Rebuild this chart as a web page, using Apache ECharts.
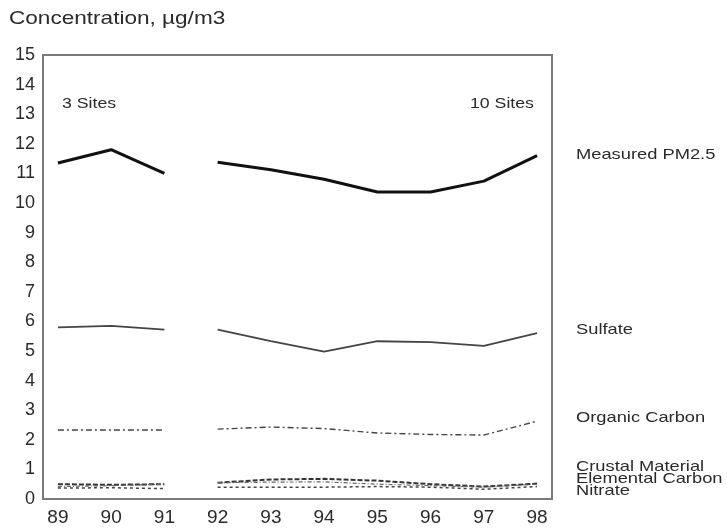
<!DOCTYPE html>
<html>
<head>
<meta charset="utf-8">
<script src="https://cdn.jsdelivr.net/npm/echarts@6/dist/echarts.min.js"></script>
<style>
  html, body { margin: 0; padding: 0; background: #fff; }
  #chart { width: 727px; height: 531px; }
</style>
</head>
<body>
<div id="chart"></div>
<script>
// values (ug/m3)
const years = [89, 90, 91, 92, 93, 94, 95, 96, 97, 98];
const breakAfter = 91; // 3 sites before, 10 sites after
const yTicks = [0, 1, 2, 3, 4, 5, 6, 7, 8, 9, 10, 11, 12, 13, 14, 15];

const pm25 = [11.35, 11.8, 11.0, 11.38, 11.12, 10.8, 10.37, 10.37, 10.74, 11.6];
const sulfate = [5.8, 5.85, 5.72, 5.72, 5.33, 4.98, 5.33, 5.3, 5.17, 5.6];
const organic = [2.33, 2.33, 2.33, 2.36, 2.43, 2.38, 2.23, 2.18, 2.16, 2.63];
const crustal = [0.5, 0.48, 0.5, 0.55, 0.66, 0.68, 0.62, 0.5, 0.42, 0.52];
const elemental = [0.42, 0.45, 0.5, 0.55, 0.57, 0.58, 0.5, 0.45, 0.4, 0.5];
const nitrate = [0.37, 0.38, 0.35, 0.4, 0.4, 0.4, 0.42, 0.4, 0.33, 0.42];

// pair years with values, leaving a hole where the site count changes
function toData(vals) {
  const out = [];
  years.forEach((yr, i) => {
    out.push([yr, vals[i]]);
    if (yr === breakAfter) out.push([yr + 0.5, '-']);
  });
  return out;
}

function line(name, vals, color, width, type) {
  return {
    name: name,
    type: 'line',
    data: toData(vals),
    symbol: 'none',
    connectNulls: false,
    lineStyle: { color: color, width: width, type: type },
    z: 3
  };
}

// stretched-looking scan text
function label(text, x, y, size) {
  return {
    type: 'text',
    x: x,
    y: y,
    scaleX: 1.22,
    style: {
      text: text,
      font: size + 'px "Liberation Sans", Arial, sans-serif',
      fill: '#2a2a2a',
      textVerticalAlign: 'middle'
    }
  };
}

const chart = echarts.init(document.getElementById('chart'));
chart.setOption({
  animation: false,
  backgroundColor: '#fff',
  grid: {
    show: true,
    left: 43,
    right: 175,
    top: 55,
    bottom: 32,
    borderColor: '#7a7a7a',
    borderWidth: 2
  },
  xAxis: {
    type: 'value',
    min: 88.72,
    max: 98.28,
    axisLine: { show: false },
    axisTick: { show: false },
    splitLine: { show: false },
    axisLabel: {
      customValues: years,
      margin: 9,
      fontSize: 19,
      color: '#2a2a2a',
      fontFamily: '"Liberation Sans", Arial, sans-serif'
    }
  },
  yAxis: {
    type: 'value',
    min: 0,
    max: 15,
    interval: 1,
    axisLine: { show: false },
    axisTick: { show: false },
    splitLine: { show: false },
    axisLabel: {
      customValues: yTicks,
      margin: 8,
      fontSize: 18,
      color: '#2a2a2a',
      fontFamily: '"Liberation Sans", Arial, sans-serif'
    }
  },
  series: [
    line('Measured PM2.5', pm25, '#111', 3, 'solid'),
    line('Sulfate', sulfate, '#444', 1.8, 'solid'),
    line('Organic Carbon', organic, '#444', 1.4, [6, 3, 2, 3]),
    line('Crustal Material', crustal, '#333', 2, [5, 2]),
    line('Elemental Carbon', elemental, '#666', 1.2, [4, 2, 1, 2]),
    line('Nitrate', nitrate, '#444', 1.5, [3, 3])
  ],
  graphic: [
    label('Concentration, \u00b5g/m3', 9, 19, 18.5),
    label('3 Sites', 62, 104, 14.5),
    label('10 Sites', 470, 104, 14.5),
    label('Measured PM2.5', 576, 155, 15),
    label('Sulfate', 576, 330, 15),
    label('Organic Carbon', 576, 418, 15),
    label('Crustal Material', 576, 467, 15),
    label('Elemental Carbon', 576, 479, 15),
    label('Nitrate', 576, 491, 15)
  ]
});
</script>
</body>
</html>
